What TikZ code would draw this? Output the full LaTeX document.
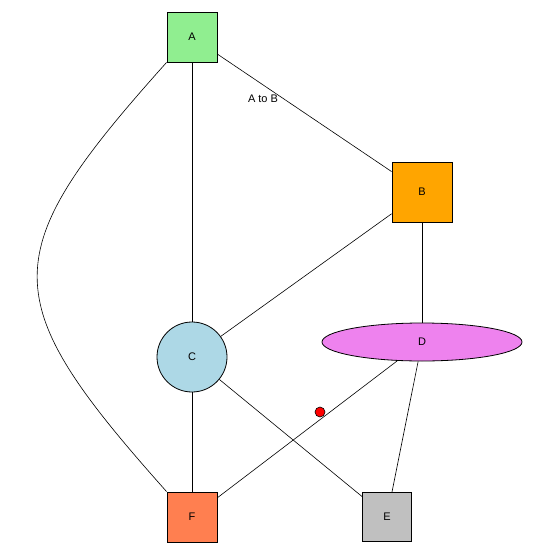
\documentclass[tikz,border=0pt]{standalone}
\usepackage{fontspec}
\setmainfont{Liberation Sans}
\usetikzlibrary{shapes.geometric}
\definecolor{cA}{RGB}{144,238,144}
\definecolor{cB}{RGB}{255,165,0}
\definecolor{cC}{RGB}{173,216,230}
\definecolor{cD}{RGB}{238,130,238}
\definecolor{cE}{RGB}{192,192,192}
\definecolor{cF}{RGB}{255,127,80}
\tikzset{
  lbl/.style={font=\fontsize{11}{12}\selectfont},
  box/.style={draw=black, line width=0.8pt, minimum width=#1, minimum height=#1, inner sep=0pt, lbl},
  edge/.style={draw=black, line width=0.6pt},
}
\begin{document}
\begin{tikzpicture}[x=1pt,y=-1pt]
\useasboundingbox (0,0) rectangle (534,554);
\node[box=50pt, fill=cA] (A) at (192,37) {A};
\node[box=60pt, fill=cB] (B) at (422,192) {B};
\node[box=70pt, circle, fill=cC] (C) at (192,357) {C};
\node[draw=black, line width=0.8pt, ellipse, fill=cD, minimum width=200pt, minimum height=38pt, inner sep=0pt, lbl] (D) at (422,342) {D};
\node[box=49pt, fill=cE] (E) at (387,517) {E};
\node[box=50pt, fill=cF] (F) at (192,517) {F};
\node[lbl] (lab) at (263,99) {A to B};
\node[circle, draw=black, line width=0.6pt, fill=red, minimum size=10pt, inner sep=0pt] (dot) at (320,412) {};
\path[edge] (A) -- (B);
\path[edge] (A) -- (C);
\path[edge] (A.south west) .. controls (-6,255) and (-6,298) .. (F.north west);
\path[edge] (B) -- (C);
\path[edge] (B) -- (D);
\path[edge] (C) -- (F);
\path[edge] (C) -- (E);
\path[edge] (D) -- (F);
\path[edge] (D) -- (E);
\end{tikzpicture}
\end{document}
